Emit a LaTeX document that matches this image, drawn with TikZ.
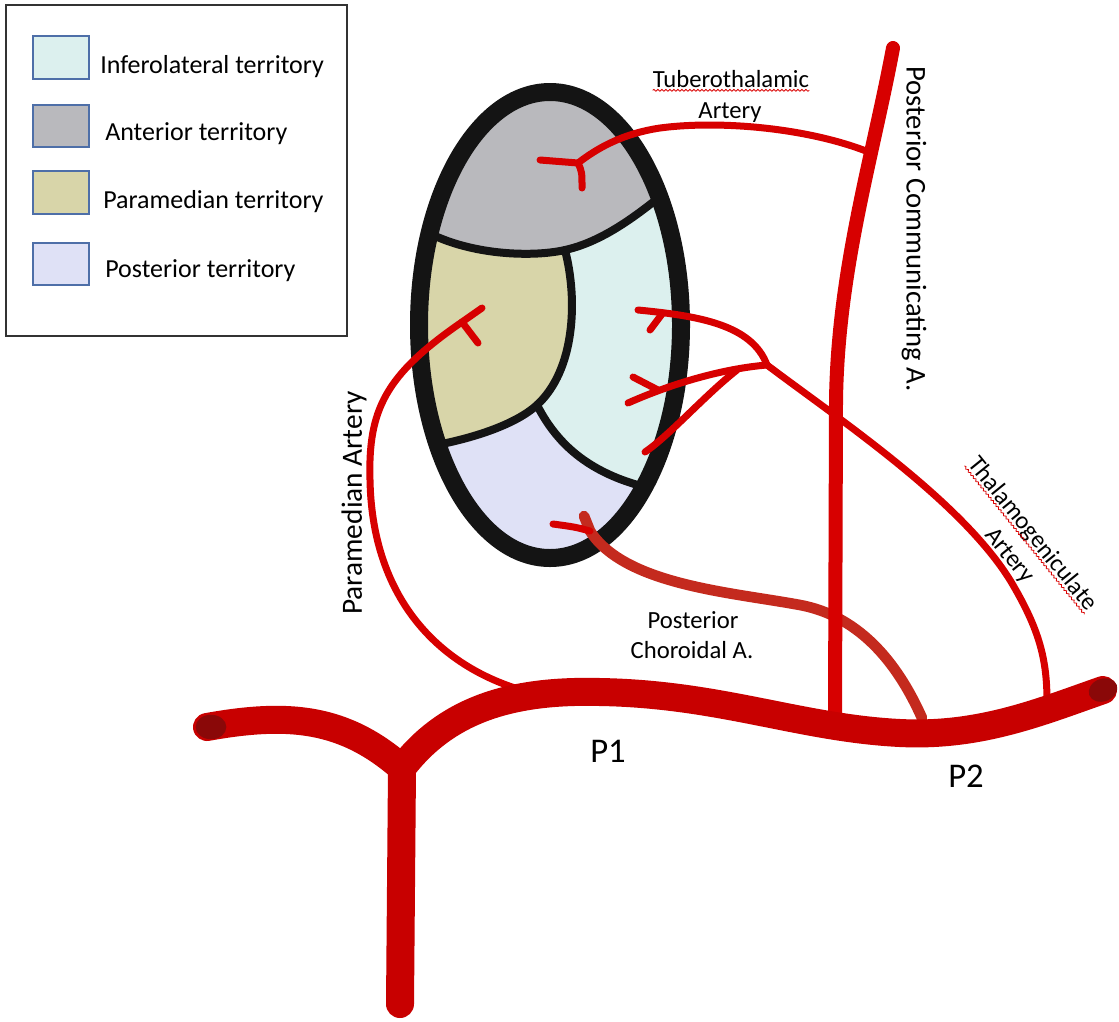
\documentclass[tikz,border=0pt]{standalone}
\usepackage{fontspec}
\setmainfont{Carlito}
\usetikzlibrary{calc,decorations.pathmorphing}

% territory fills
\definecolor{infero}{HTML}{DCF0EE}
\definecolor{anter}{HTML}{B9B9BD}
\definecolor{parame}{HTML}{D8D5A9}
\definecolor{poster}{HTML}{DFE1F6}
\definecolor{swatchedge}{HTML}{4E6FA8}
% vessels
\definecolor{artred}{HTML}{D70000}
\definecolor{trunkred}{HTML}{C80000}
\definecolor{capred}{HTML}{8A0808}
\definecolor{chorred}{HTML}{C42A1E}

\begin{document}
\begin{tikzpicture}[x=0.75pt, y=-0.75pt,
  every node/.style={inner sep=0pt},
  legframe/.style={draw=black!80, line width=1.1pt},
  legswatch/.style={draw=swatchedge, line width=1.5pt, minimum width=42pt, minimum height=32pt},
  legtext/.style={anchor=base west, font=\fontsize{19.5}{23}\selectfont},
  divider/.style={draw=black!92, line width=6pt, line cap=round, line join=round},
  rim/.style={draw=black!92, line width=13.5pt},
  artery/.style={draw=artred, line width=5.25pt, line cap=round, line join=round},
  choroid/.style={draw=chorred, line width=8pt, line cap=round, line join=round},
  pcomm/.style={draw=artred, line width=10.5pt, line cap=round, line join=round},
  trunk/.style={draw=trunkred, line width=21pt, line cap=round, line join=round},
  squiggle/.style={draw=red!85!black, line width=0.6pt, decorate,
    decoration={snake, amplitude=0.7pt, segment length=3pt}},
  lab/.style={font=\fontsize{#1}{#1}\selectfont},
]
\useasboundingbox (0,0) rectangle (1119,1021);

% ---------- legend ----------
\draw[legframe] (6,5) rectangle (347,336);
\node[legswatch, fill=infero] (swInf) at (61,57.5) {};
\node[legswatch, fill=anter]  (swAnt) at (61,126) {};
\node[legswatch, fill=parame] (swPar) at (61,192.5) {};
\node[legswatch, fill=poster] (swPos) at (61,264) {};
\node[legtext] (txInf) at (100,73)  {Inferolateral territory};
\node[legtext] (txAnt) at (105,140) {Anterior territory};
\node[legtext] (txPar) at (103,208) {Paramedian territory};
\node[legtext] (txPos) at (105,277) {Posterior territory};

% ---------- thalamus with its four territories ----------
\begin{scope}
  \clip (550,325) ellipse [x radius=98.25pt, y radius=174.75pt];
  \fill[infero] (400,60) rectangle (700,580);
  \fill[anter] (400,60) -- (400,225) -- (415,225)
    .. controls (460,255) and (530,258) .. (565,250)
    .. controls (610,240) and (650,205) .. (690,172) -- (700,172) -- (700,60) -- cycle;
  \fill[parame] (400,225) -- (415,225)
    .. controls (460,255) and (530,258) .. (565,250)
    .. controls (578,300) and (575,370) .. (537,405)
    .. controls (515,425) and (470,440) .. (420,448) -- (400,448) -- cycle;
  \fill[poster] (400,448) -- (420,448)
    .. controls (470,440) and (515,425) .. (537,405)
    .. controls (560,450) and (600,485) .. (690,495) -- (700,580) -- (400,580) -- cycle;
  \draw[divider] (415,225) .. controls (460,255) and (530,258) .. (565,250)
    .. controls (610,240) and (650,205) .. (690,172);
  \draw[divider] (565,250) .. controls (578,300) and (575,370) .. (537,405);
  \draw[divider] (420,448) .. controls (470,440) and (515,425) .. (537,405);
  \draw[divider] (537,405) .. controls (560,450) and (600,485) .. (690,495);
\end{scope}
\draw[rim] (550,325) ellipse [x radius=98.25pt, y radius=174.75pt];

% ---------- key points of the vessels ----------
\coordinate (lEnd) at (207,727);
\coordinate (fork) at (402,768);
\coordinate (stemEnd) at (400,1004);
\coordinate (rEnd) at (1103,690);
\coordinate (pcTop) at (893,48);
\coordinate (pcP1) at (835,715);
\coordinate (tubJ) at (871,153);
\coordinate (tubFork) at (578,163);
\coordinate (pmP1) at (515,688);
\coordinate (pmFork) at (462,322);
\coordinate (tgP2) at (1047,702);
\coordinate (tgJ) at (767,365);
\coordinate (tgLow) at (737,370);
\coordinate (chorP2) at (922,718);
\coordinate (chorFork) at (590,531);

% posterior choroidal artery
\draw[choroid] (chorP2) .. controls (905,680) and (870,618) .. (800,605)
  .. controls (730,592) and (625,585) .. (chorFork) -- (584,516);
\draw[artery] (chorFork) .. controls (575,527) .. (553,524);

% posterior communicating artery
\draw[pcomm] (pcTop) .. controls (872,160) and (838,270) .. (836,400) -- (pcP1);

% tuberothalamic artery
\draw[artery] (tubJ) .. controls (810,128) and (720,120) .. (660,128)
  .. controls (620,134) and (595,150) .. (tubFork) -- (540,160);
\draw[artery] (tubFork) .. controls (582,172) .. (582,188);

% paramedian artery
\draw[artery] (pmP1) .. controls (430,660) and (372,590) .. (370,480)
  .. controls (368,410) and (385,375) .. (pmFork) -- (482,308);
\draw[artery] (pmFork) -- (478,343);

% thalamogeniculate artery and its inferolateral branches
\draw[artery] (tgP2) .. controls (1047,660) and (1040,630) .. (1010,580)
  .. controls (960,500) and (840,420) .. (tgJ);
\draw[artery] (tgJ) .. controls (752,325) and (700,316) .. (638,310);
\draw[artery] (662,314) -- (650,330);
\draw[artery] (tgJ) .. controls (730,368) and (680,380) .. (628,403);
\draw[artery] (658,390) -- (633,377);
\draw[artery] (tgLow) .. controls (705,395) and (670,435) .. (645,452);

% P1 / P2 trunk with the basilar stem
\draw[trunk] (lEnd) .. controls (290,712) and (345,718) .. (fork);
\draw[trunk] (fork) -- (stemEnd);
\draw[trunk] (fork) .. controls (450,705) and (520,690) .. (600,692)
  .. controls (720,694) and (800,728) .. (900,733)
  .. controls (980,737) and (1040,712) .. (rEnd);
\fill[capred] (211,727) ellipse [x radius=11.5pt, y radius=9.2pt];
\fill[capred, rotate around={20:(rEnd)}] (rEnd) ellipse [x radius=11pt, y radius=8.5pt];

% ---------- labels ----------
\node[lab=18.5, anchor=base] (tub1) at (731,87) {Tuberothalamic};
\node[lab=18.5, anchor=base] (tub2) at (730,118) {Artery};
\draw[squiggle] ($(tub1.base west)!2.5pt!-90:(tub1.base east)$) -- ($(tub1.base east)!2.5pt!90:(tub1.base west)$);

\node[lab=21.5, rotate=-90] (pcLab) at (914,229) {Posterior Communicating A.};
\node[lab=22, rotate=90] (pmLab) at (354,503) {Paramedian Artery};

\node[lab=18.5, rotate=-51] (tg1) at (1032,534) {Thalamogeniculate};
\node[lab=18.5, rotate=-51] (tg2) at (1009,556) {Artery};
\draw[squiggle] ($(tg1.base west)!2.5pt!-90:(tg1.base east)$) -- ($(tg1.base east)!2.5pt!90:(tg1.base west)$);

\node[lab=18.5, anchor=base] (ch1) at (693,628) {Posterior};
\node[lab=18.5, anchor=base] (ch2) at (692,658) {Choroidal A.};

\node[lab=26, anchor=base] (p1) at (608,762) {P1};
\node[lab=26, anchor=base] (p2) at (966,787) {P2};
\end{tikzpicture}
\end{document}
